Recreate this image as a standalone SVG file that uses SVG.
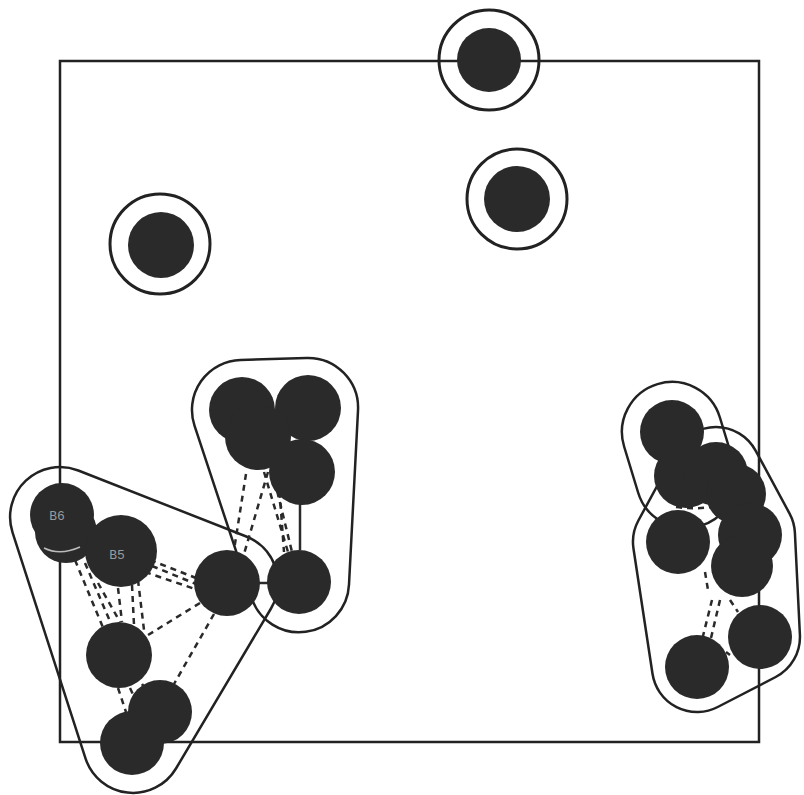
<svg xmlns="http://www.w3.org/2000/svg" width="804" height="795" viewBox="0 0 804 795">
<style>
.frame{fill:none;stroke:#222;stroke-width:2.5}
.hull{fill:none;stroke:#222;stroke-width:2.5}
.ring{fill:none;stroke:#222;stroke-width:3}
.node{fill:#2a2a2a}
.d{fill:none;stroke:#2a2a2a;stroke-width:2.5;stroke-dasharray:6 5}
.s{fill:none;stroke:#2a2a2a;stroke-width:2.5}
.lbl{font-family:"Liberation Mono",monospace;font-size:13px;fill:#9a9a9a;text-anchor:middle;dominant-baseline:central}
</style>
<rect width="804" height="795" fill="#fff"/>
<rect class="frame" x="60" y="61" width="699" height="681"/>
<g id="hulls">
<path class="hull" d="M78.3,470.5 L246.3,536.5 A50 50 0 0 1 271,608.5 L176,768.5 A50 50 0 0 1 85.5,758.4 L12.5,532.4 A50 50 0 0 1 78.3,470.5 Z"/>
<path class="hull" d="M240.5,360 L306.5,358 A50 50 0 0 1 358,410.6 L349,584.6 A50 50 0 0 1 251.5,597.7 L194.5,425.7 A50 50 0 0 1 240.5,360 Z"/>
<path class="hull" d="M624.1,446.5 A50 50 0 0 1 719.9,417.5 L733.9,463.5 A50 50 0 0 1 638.1,492.5 Z"/>
<path class="hull" d="M676.4,450.5 A45 45 0 0 1 755.6,450.6 L789.6,513.6 A45 45 0 0 1 794.9,532.8 L799.9,634.8 A45 45 0 0 1 775.7,677 L717.7,707 A45 45 0 0 1 652.5,673.8 L633.5,548.8 A45 45 0 0 1 638.4,520.5 Z"/>
</g>
<g id="connectors">
<path class="d" d="M150,560 L196,578"/>
<path class="d" d="M152,566 L196,584"/>
<path class="d" d="M145,572 L198,590"/>
<path class="d" d="M75,560 L104,630"/>
<path class="d" d="M85,563 L112,626"/>
<path class="d" d="M98,583 L120,622"/>
<path class="d" d="M118,588 L122,622"/>
<path class="d" d="M132,585 L134,625"/>
<path class="d" d="M138,580 L144,630"/>
<path class="d" d="M200,603 L148,635"/>
<path class="d" d="M214,614 L174,684"/>
<path class="d" d="M118,688 L126,712"/>
<path class="d" d="M130,688 L138,705"/>
<path class="d" d="M142,684 L146,690"/>
<path class="d" d="M246,474 L234,550"/>
<path class="d" d="M268,472 L244,554"/>
<path class="d" d="M264,472 L288,552"/>
<path class="d" d="M272,470 L292,552"/>
<path class="d" d="M278,470 L284,552"/>
<path class="s" d="M300,504 L300,550"/>
<path class="s" d="M259,583 L268,583"/>
<path class="d" d="M676,507 Q715,512 748,496"/>
<path class="d" d="M705,572 L708,590"/>
<path class="d" d="M712,600 L703,636"/>
<path class="d" d="M720,600 L711,638"/>
<path class="d" d="M730,600 L738,612"/>
<path class="s" d="M726,652 L730,655"/>
</g>
<g id="n-top"><circle class="ring" cx="489" cy="60" r="50"/><circle class="node" cx="489" cy="60" r="32"/></g>
<g id="n-mid"><circle class="ring" cx="517" cy="199" r="50"/><circle class="node" cx="517" cy="199" r="33"/></g>
<g id="n-left"><circle class="ring" cx="160" cy="244" r="50"/><circle class="node" cx="161" cy="245" r="33"/></g>
<g id="n-B6"><circle class="node" cx="62" cy="515" r="32"/><circle class="node" cx="66" cy="532" r="31"/><path d="M44,548 Q60,556 80,547" fill="none" stroke="#bbb" stroke-width="1.5"/><text class="lbl" x="57" y="516">B6</text></g>
<g id="n-B5"><circle class="node" cx="121" cy="551" r="36"/><text class="lbl" x="117" y="555">B5</text></g>
<g id="n-B3"><circle class="node" cx="227" cy="583" r="33"/></g>
<g id="n-C17"><circle class="node" cx="299" cy="582" r="32"/></g>
<g id="n-B4"><circle class="node" cx="119" cy="655" r="33"/></g>
<g id="n-B1"><circle class="node" cx="160" cy="712" r="32"/></g>
<g id="n-B2"><circle class="node" cx="132" cy="743" r="32"/></g>
<g id="n-U1"><circle class="node" cx="242" cy="410" r="33"/></g>
<g id="n-U2"><circle class="node" cx="308" cy="408" r="33"/></g>
<g id="n-U3"><circle class="node" cx="258" cy="437" r="33"/></g>
<g id="n-U4"><circle class="node" cx="302" cy="472" r="33"/></g>
<g id="n-R1"><circle class="node" cx="672" cy="432" r="32"/></g>
<g id="n-R2"><circle class="node" cx="686" cy="476" r="32"/></g>
<g id="n-R3"><circle class="node" cx="716" cy="474" r="32"/></g>
<g id="n-R4"><circle class="node" cx="736" cy="494" r="30"/></g>
<g id="n-R5"><circle class="node" cx="678" cy="542" r="32"/></g>
<g id="n-R6"><circle class="node" cx="750" cy="535" r="32"/></g>
<g id="n-R7"><circle class="node" cx="742" cy="566" r="31"/></g>
<g id="n-R8"><circle class="node" cx="760" cy="637" r="32"/></g>
<g id="n-R9"><circle class="node" cx="697" cy="667" r="32"/></g>
</svg>
